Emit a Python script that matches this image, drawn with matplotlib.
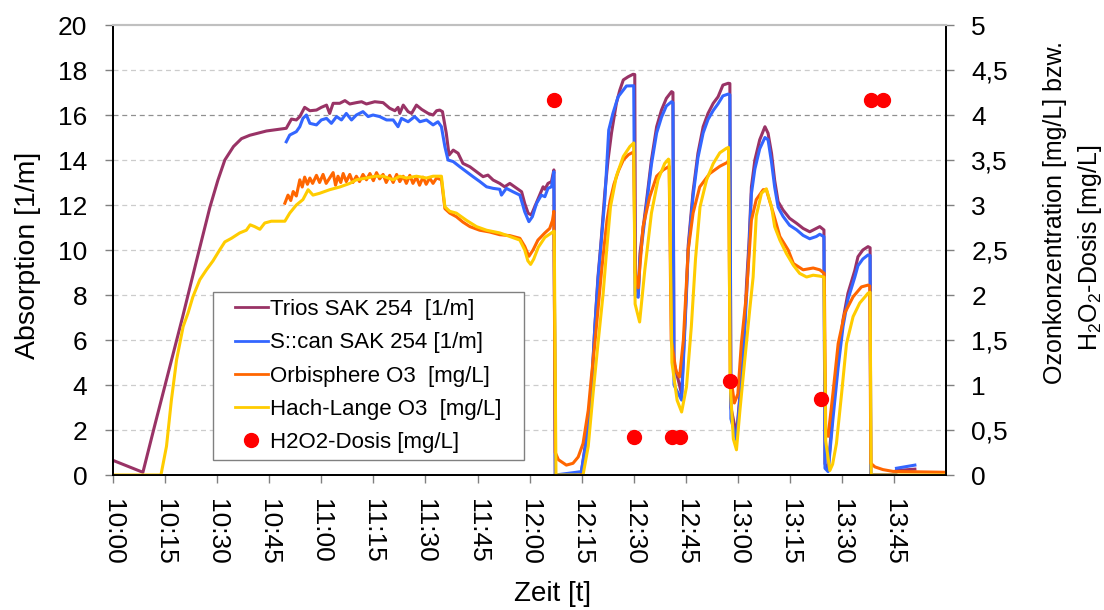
import numpy as np
import matplotlib
matplotlib.use("Agg")
import matplotlib.pyplot as plt
from matplotlib.lines import Line2D
from matplotlib.patches import Rectangle

plt.rcParams['font.family'] = ['Liberation Sans', 'DejaVu Sans']
plt.rcParams['mathtext.fontset'] = 'custom'
plt.rcParams['mathtext.rm'] = 'Liberation Sans'
plt.rcParams['mathtext.it'] = 'Liberation Sans:italic'

# time axis: minutes after 10:00
tick_min = [0, 15, 30, 45, 60, 75, 90, 105, 120, 135, 150, 165, 180, 195, 210, 225]
tick_lab = ["10:00", "10:15", "10:30", "10:45", "11:00", "11:15", "11:30", "11:45",
            "12:00", "12:15", "12:30", "12:45", "13:00", "13:15", "13:30", "13:45"]

# Trios SAK 254 [1/m]
trios_t = [0, 8.6, 12, 16, 20, 24, 27.9, 30.2, 32.2, 34.7, 37.0, 39.4, 44.2, 49.9, 51.4, 52.8,
           53.8, 55.2, 56.7, 58.6, 60.0, 61.5, 62.4, 63.4, 65.3, 66.8, 68.2, 70.1, 71.6, 73.0,
           75.4, 77.8, 79.7, 81.2, 82.1, 82.6, 83.6, 85.0, 86.0, 87.4, 88.9, 90.8, 92.2, 93.2,
           94.1, 94.9, 96.0, 96.8, 98.0, 99.4, 100.8, 102.8, 104.7, 106.6, 108.0, 109.5, 111.4,
           112.8, 114.3, 115.7, 117.7, 118.6, 119.6, 120.5, 121.5, 122.9, 123.9, 124.4, 125.3,
           126.3, 127.0, 127.4, 134.8, 136.4, 137.8, 138.8, 139.7, 140.5, 141.7, 142.6, 143.6,
           145.0, 146.0, 147.0, 148.4, 149.8, 150.3, 150.5, 151.3, 151.8, 153.7, 155.1, 156.6,
           158.0, 159.4, 160.9, 161.3, 161.6, 163.8, 165.2, 165.7, 167.1, 168.5, 170.0, 171.4,
           172.9, 174.3, 175.7, 177.2, 177.7, 178.0, 179.6, 181.5, 182.5, 183.2, 183.9, 184.9,
           186.3, 187.8, 188.7, 189.7, 190.6, 191.6, 193.0, 194.9, 196.9, 198.8, 200.7, 202.6,
           203.6, 204.8, 205.1, 206.0, 207.4, 208.9, 210.3, 211.7, 213.7, 214.6, 216.0, 217.5,
           218.1, 218.3, 225.5, np.nan, 225.7, 231.0]
trios_v = [0.65, 0.12, 2.2, 4.6, 7.0, 9.5, 11.9, 13.1, 14.0, 14.6, 14.95, 15.1, 15.29, 15.41,
           15.82, 15.78, 15.93, 16.34, 16.19, 16.22, 16.34, 16.44, 16.07, 16.52, 16.52, 16.64,
           16.49, 16.55, 16.59, 16.49, 16.59, 16.55, 16.30, 16.19, 16.34, 16.07, 16.44, 16.15,
           16.07, 16.44, 16.25, 16.07, 16.0, 16.19, 16.22, 16.15, 15.19, 14.22, 14.44, 14.30,
           13.85, 13.70, 13.48, 13.26, 13.33, 13.11, 12.96, 12.81, 12.96, 12.81, 12.59, 12.07,
           11.63, 11.56, 11.93, 12.44, 12.81, 12.7, 12.96, 13.04, 13.56, 0, 0, 1.7, 3.8, 6.6,
           8.8, 10.2, 12.6, 14.0, 15.2, 16.52, 17.11, 17.56, 17.70, 17.81, 17.8, 8.5, 8.07, 9.85,
           12.2, 14.0, 15.48, 16.22, 16.74, 17.04, 17.0, 5.0, 3.6, 8.3, 10.2, 12.6, 14.3, 15.48,
           16.07, 16.52, 16.81, 17.33, 17.41, 17.4, 3.0, 1.8, 5.1, 8.5, 10.3, 12.8, 14.0, 14.9,
           15.48, 15.19, 14.3, 13.1, 12.15, 11.78, 11.41, 11.19, 10.96, 10.81, 10.96, 11.04,
           10.89, 0.5, 0.22, 2.9, 5.1, 6.9, 8.07, 9.1, 9.7, 10.0, 10.15, 10.1, 0, 0, np.nan,
           0.2, 0.26]

# S::can SAK 254 [1/m]
scan_t = [49.9, 50.9, 51.9, 52.8, 53.8, 54.7, 55.7, 56.7, 58.6, 60.0, 61.5, 62.9, 64.4, 65.8,
          67.2, 68.7, 70.1, 72.0, 73.5, 74.9, 76.8, 78.8, 80.7, 82.1, 83.1, 85.0, 86.9, 88.4,
          90.3, 92.2, 93.6, 94.6, 95.6, 96.5, 98.0, 99.9, 101.8, 103.7, 105.6, 107.6, 109.5,
          111.4, 111.9, 113.3, 115.2, 117.2, 118.6, 119.8, 120.8, 122.0, 123.4, 124.4, 125.3,
          126.3, 127.0, 127.4, 134.9, 136.4, 137.8, 138.8, 139.7, 140.2, 141.7, 142.8, 144.0,
          145.5, 147.9, 150.0, 150.4, 151.3, 151.8, 153.7, 155.1, 156.6, 158.0, 159.4, 160.9,
          161.3, 161.6, 163.8, 165.2, 165.7, 167.1, 168.5, 170.0, 171.4, 172.9, 174.3, 175.7,
          177.2, 177.7, 178.0, 179.6, 181.5, 182.5, 183.2, 183.9, 184.9, 186.3, 187.8, 188.7,
          189.7, 190.6, 191.6, 193.0, 194.9, 196.9, 198.8, 200.7, 202.6, 203.6, 204.8, 205.1,
          206.0, 207.4, 208.9, 210.3, 211.7, 213.7, 214.6, 216.0, 217.5, 218.1, 218.3, 225.5,
          np.nan, 225.7, 231.0]
scan_v = [14.81, 15.11, 15.19, 15.26, 15.48, 15.85, 16.0, 15.63, 15.56, 15.78, 15.85, 15.63,
          15.93, 15.78, 16.07, 15.78, 16.0, 16.15, 15.93, 16.0, 15.93, 15.78, 15.78, 15.48,
          15.85, 15.70, 15.93, 15.70, 15.78, 15.56, 15.70, 15.48, 14.59, 14.0, 13.93, 13.70,
          13.48, 13.26, 13.05, 12.81, 12.74, 12.7, 12.44, 12.74, 12.59, 12.44, 11.70, 11.26,
          11.48, 12.07, 12.44, 12.37, 12.74, 12.81, 13.48, 0, 0.15, 1.56, 3.63, 6.59, 8.67,
          9.56, 12.3, 15.33, 16.07, 16.81, 17.29, 17.3, 8.0, 7.9, 9.6, 12.0, 13.8, 15.2, 15.9,
          16.4, 16.59, 16.55, 4.0, 3.33, 8.07, 10.0, 12.4, 14.1, 15.2, 15.8, 16.2, 16.5, 16.85,
          16.93, 16.9, 2.5, 1.56, 5.1, 8.0, 10.0, 12.5, 13.6, 14.5, 15.0, 14.9, 13.9, 12.8,
          11.9, 11.5, 11.1, 10.9, 10.65, 10.5, 10.6, 10.7, 10.59, 0.3, 0.15, 2.5, 4.8, 6.6,
          7.8, 8.8, 9.3, 9.6, 9.78, 9.75, 0, 0, np.nan, 0.3, 0.44]

# Orbisphere O3 [mg/L]
orbi_t = [49.5, 50.4, 51.2, 51.9, 52.8, 53.8, 54.5, 55.2, 56.0, 56.7, 57.5, 58.6, 59.5, 60.5,
          61.4, 62.4, 63.4, 64.1, 64.8, 65.6, 66.3, 67.2, 68.2, 69.1, 70.1, 71.0, 72.0, 73.0,
          74.0, 75.0, 75.9, 76.8, 77.8, 78.7, 79.7, 80.7, 81.7, 82.6, 83.6, 84.5, 85.5, 86.4,
          87.4, 88.3, 89.3, 90.2, 91.2, 92.2, 93.2, 94.6, 95.6, 97.0, 98.9, 100.8, 102.8,
          105.6, 108.5, 111.4, 114.3, 117.2, 118.6, 119.8, 121.0, 122.4, 124.4, 125.8, 126.6,
          127.0, 127.4, 128.3, 130.6, 132.5, 134.0, 135.4, 136.9, 137.8, 138.8, 139.7, 140.7,
          141.5, 142.3, 143.2, 144.3, 145.6, 147.0, 148.5, 150.0, 150.4, 151.3, 152.7, 154.6,
          156.6, 158.5, 160.2, 160.8, 162.2, 163.2, 164.3, 165.7, 167.1, 169.0, 171.9, 174.8,
          177.3, 177.8, 179.0, 180.0, 181.0, 182.5, 183.9, 185.3, 187.3, 188.2, 190.2, 192.1,
          194.5, 196.0, 198.8, 201.7, 203.6, 204.9, 205.3, 206.0, 207.4, 208.9, 210.8, 213.2,
          215.6, 217.5, 218.0, 218.3, 219.5, 221.8, 224.7, 240.0]
orbi_v = [3.02, 3.11, 3.05, 3.15, 3.10, 3.28, 3.20, 3.31, 3.23, 3.30, 3.24, 3.33, 3.25, 3.34,
          3.24, 3.30, 3.36, 3.22, 3.32, 3.25, 3.35, 3.26, 3.34, 3.25, 3.32, 3.26, 3.34, 3.28,
          3.35, 3.27, 3.36, 3.29, 3.34, 3.25, 3.33, 3.25, 3.34, 3.26, 3.32, 3.24, 3.33, 3.24,
          3.31, 3.22, 3.31, 3.23, 3.30, 3.24, 3.30, 3.28, 2.96, 2.91, 2.87, 2.81, 2.76, 2.72,
          2.70, 2.67, 2.66, 2.63, 2.54, 2.43, 2.50, 2.61, 2.69, 2.74, 2.83, 2.93, 0.25, 0.17,
          0.11, 0.13, 0.20, 0.35, 0.72, 1.09, 1.46, 1.83, 2.25, 2.55, 2.83, 3.05, 3.23, 3.38,
          3.50, 3.56, 3.59, 2.25, 2.08, 2.76, 3.09, 3.32, 3.39, 3.43, 1.5, 1.15, 1.09, 1.5,
          2.5, 2.91, 3.20, 3.35, 3.43, 3.48, 1.13, 0.80, 0.90, 1.46, 2.02, 2.83, 3.06, 3.17,
          3.17, 2.91, 2.65, 2.50, 2.35, 2.28, 2.30, 2.28, 2.24, 0.50, 0.43, 0.91, 1.46, 1.80,
          1.98, 2.09, 2.11, 2.10, 0.13, 0.09, 0.06, 0.04, 0.03]

# Hach-Lange O3 [mg/L]
hach_t = [0, 13.8, 15.4, 16.8, 18.3, 20.2, 21.6, 23.0, 25.0, 26.9, 28.8, 30.7, 32.2, 34.1,
          36.5, 38.4, 39.5, 40.8, 42.3, 43.7, 45.6, 49.5, 50.9, 52.8, 54.7, 56.2, 57.6, 59.5,
          62.4, 65.3, 68.2, 70.1, 73.0, 75.5, 77.8, 80.7, 82.6, 84.5, 87.4, 90.3, 92.2, 94.6,
          95.6, 97.0, 98.9, 101.8, 104.7, 107.6, 111.4, 114.3, 117.2, 118.6, 119.5, 120.3,
          121.2, 122.5, 124.4, 126.3, 127.1, 127.6, 135.4, 136.9, 138.3, 139.7, 141.2, 142.2,
          143.3, 145.0, 147.0, 148.9, 150.0, 150.4, 151.7, 153.2, 155.1, 157.0, 158.9, 160.0,
          160.2, 161.0, 162.5, 163.8, 165.2, 166.6, 167.8, 169.1, 171.0, 172.9, 174.8, 176.7,
          177.3, 177.8, 178.7, 179.6, 180.6, 182.0, 183.4, 184.4, 185.3, 186.8, 188.2, 189.7,
          190.6, 192.1, 194.0, 196.0, 197.8, 199.8, 201.7, 203.6, 204.8, 205.3, 206.5, 207.3,
          208.4, 209.9, 211.3, 213.2, 215.1, 217.5, 218.1, 218.4, 240.0]
hach_v = [0, 0, 0.32, 0.83, 1.28, 1.65, 1.80, 1.98, 2.17, 2.28, 2.38, 2.50, 2.59, 2.63, 2.69,
          2.72, 2.78, 2.76, 2.73, 2.80, 2.82, 2.82, 2.91, 3.00, 3.06, 3.17, 3.11, 3.13, 3.17,
          3.20, 3.24, 3.28, 3.30, 3.32, 3.32, 3.28, 3.32, 3.30, 3.32, 3.30, 3.32, 3.32, 2.98,
          2.93, 2.91, 2.83, 2.76, 2.72, 2.69, 2.65, 2.61, 2.50, 2.38, 2.34, 2.40, 2.53, 2.64,
          2.69, 2.71, 0, 0, 0.32, 0.91, 1.46, 2.02, 2.50, 2.98, 3.32, 3.54, 3.65, 3.69, 1.9,
          1.70, 2.28, 2.91, 3.28, 3.46, 3.51, 3.50, 1.25, 0.83, 0.70, 0.98, 1.65, 2.40, 2.98,
          3.28, 3.46, 3.58, 3.63, 3.64, 1.0, 0.40, 0.28, 0.72, 1.28, 1.83, 2.20, 2.88, 3.13,
          3.18, 2.98, 2.76, 2.61, 2.46, 2.33, 2.24, 2.20, 2.22, 2.21, 2.20, 0.38, 0.05, 0.12,
          0.35, 0.91, 1.46, 1.76, 1.91, 2.02, 2.03, 0, 0]

# H2O2-Dosis [mg/L]
h2o2_t = [127.0, 150.2, 160.9, 163.3, 177.7, 203.9, 218.5, 221.9]
h2o2_v = [4.17, 0.42, 0.42, 0.42, 1.05, 0.84, 4.17, 4.17]

c_trios = '#993366'
c_scan = '#3366FF'
c_orbi = '#FF6600'
c_hach = '#FFCC00'
c_dot = '#FF0000'

fig = plt.figure(figsize=(11.04, 6.10), dpi=100)
fig.subplots_adjust(left=0.1024, right=0.857, bottom=0.2213, top=0.959)
ax = fig.add_subplot(111)
ax2 = ax.twinx()

ax.plot(trios_t, trios_v, color=c_trios, lw=2.2)
ax.plot(scan_t, scan_v, color=c_scan, lw=2.2)
ax2.plot(orbi_t, orbi_v, color=c_orbi, lw=2.2)
ax2.plot(hach_t, hach_v, color=c_hach, lw=2.2)
ax2.plot(h2o2_t, h2o2_v, 'o', color=c_dot, ms=10, ls='none')

ax.set_xlim(0, 240)
ax.set_ylim(0, 20)
ax2.set_ylim(0, 5)

# gridlines
for g in range(2, 20, 2):
    col = '#909090' if g == 16 else '#cccccc'
    ax.axhline(g, color=col, lw=0.9, ls=(0, (4, 3)), zorder=0)

ax.set_xticks(tick_min)
ax.set_xticklabels(tick_lab, rotation=270, fontsize=19)
ax.set_yticks(range(0, 21, 2))
ax.set_yticklabels([str(v) for v in range(0, 21, 2)], fontsize=19)
r_ticks = [0, 0.5, 1, 1.5, 2, 2.5, 3, 3.5, 4, 4.5, 5]
ax2.set_yticks(r_ticks)
ax2.set_yticklabels([('%g' % v).replace('.', ',') for v in r_ticks], fontsize=19)

ax.tick_params(axis='y', direction='out', length=6, width=1, color='#808080', pad=12.5)
ax.tick_params(axis='x', direction='out', length=6, width=1, color='#808080', pad=11)
ax2.tick_params(axis='y', direction='out', length=6, width=1, color='#808080', pad=12)

for a in (ax, ax2):
    a.spines['top'].set_color('#c0c0c0')
    a.spines['top'].set_linewidth(1.5)
    a.spines['left'].set_linewidth(1.3)
    a.spines['right'].set_linewidth(1.3)
    a.spines['bottom'].set_linewidth(1.3)

ax.set_ylabel('Absorption [1/m]', fontsize=20.5)
ax.yaxis.set_label_coords(-0.087, 0.489)
fig.text(553 / 1104, 1 - 594 / 610, 'Zeit [t]', fontsize=20, ha='center', va='center')
fig.text(1055 / 1104, 1 - 213 / 610, 'Ozonkonzentration [mg/L] bzw.', fontsize=18,
         rotation=90, ha='center', va='center')
fig.text(1090 / 1104, 1 - 248 / 610, 'H$_2$O$_2$-Dosis [mg/L]', fontsize=18,
         rotation=90, ha='center', va='center')

# legend with a square frame
x0, x1 = 0.1197, 0.493
y0, y1 = 0.0333, 0.4067
ax2.add_patch(Rectangle((x0, y0), x1 - x0, y1 - y0, transform=ax2.transAxes,
                        facecolor='white', edgecolor='#808080', lw=1.0, zorder=5))
handles = [Line2D([], [], color=c_trios, lw=2),
           Line2D([], [], color=c_scan, lw=2),
           Line2D([], [], color=c_orbi, lw=2),
           Line2D([], [], color=c_hach, lw=2),
           Line2D([], [], color=c_dot, marker='o', ms=10, ls='none')]
labels = ['Trios SAK 254  [1/m]', 'S::can SAK 254 [1/m]', 'Orbisphere O3  [mg/L]',
          'Hach-Lange O3  [mg/L]', 'H2O2-Dosis [mg/L]']
leg = ax2.legend(handles, labels, loc='center', bbox_to_anchor=((x0 + x1) / 2, (y0 + y1) / 2),
                 fontsize=16, frameon=False, handlelength=1.5, handletextpad=0.1,
                 labelspacing=0.55, borderpad=0, borderaxespad=0)
leg.set_zorder(6)

fig.savefig('out.png', dpi=100)
